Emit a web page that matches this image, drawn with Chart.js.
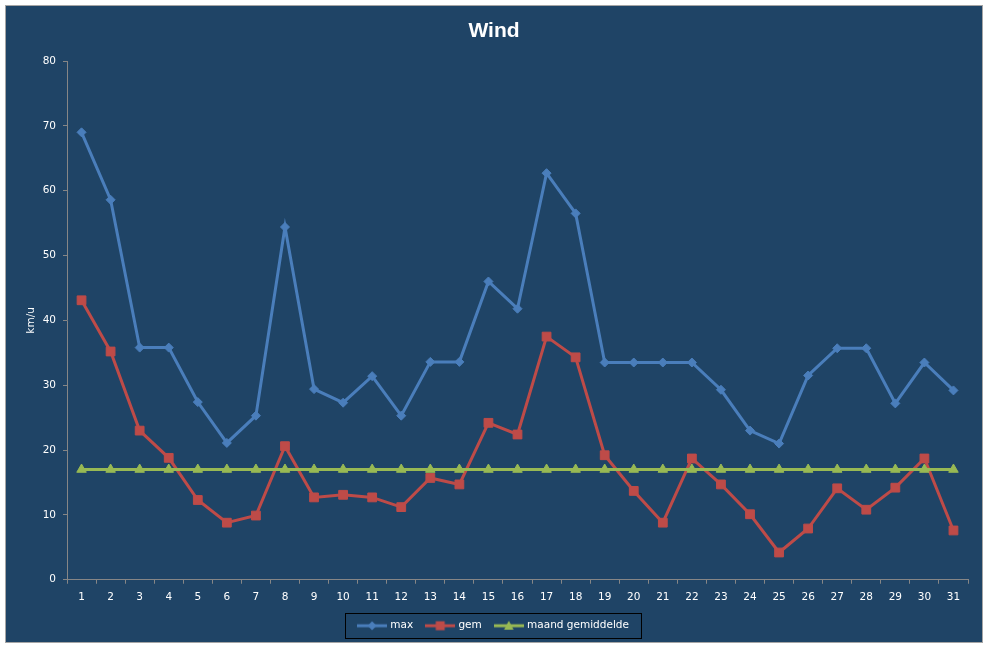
<!DOCTYPE html>
<html><head><meta charset="utf-8">
<script src="https://cdn.jsdelivr.net/npm/chart.js@4/dist/chart.umd.min.js"></script>
<style>html,body{margin:0;padding:0;background:#fff;}canvas{display:block;}</style>
</head><body>
<canvas id="c" width="987" height="648"></canvas>
<script>
const days = ['1','2','3','4','5','6','7','8','9','10','11','12','13','14','15','16','17','18','19','20','21','22','23','24','25','26','27','28','29','30','31'];
const maxWind = [69.0,58.6,35.8,35.8,27.4,21.1,25.3,54.4,29.4,27.3,31.4,25.3,33.6,33.6,46.0,41.8,62.7,56.5,33.5,33.5,33.5,33.5,29.3,23.0,21.0,31.5,35.7,35.7,27.2,33.5,29.2];
const gemWind = [43.1,35.2,23.0,18.8,12.3,8.8,9.9,20.6,12.7,13.1,12.7,11.2,15.7,14.7,24.2,22.4,37.5,34.3,19.2,13.7,8.8,18.7,14.7,10.1,4.2,7.9,14.1,10.8,14.2,18.7,7.6];
const maandGem = [17.0,17.0,17.0,17.0,17.0,17.0,17.0,17.0,17.0,17.0,17.0,17.0,17.0,17.0,17.0,17.0,17.0,17.0,17.0,17.0,17.0,17.0,17.0,17.0,17.0,17.0,17.0,17.0,17.0,17.0,17.0];
const seriesNames = ['max','gem','maand gemiddelde'];
const yMin = 0, yMax = 80, yStep = 10;

const BLUE = '#4A7EBB', RED = '#BE4B48', GREEN = '#98B954';
const BG = '#1F4466', AXIS = '#868686';
const FONT = {family: "'DejaVu Sans', sans-serif", size: 10.5};

function legendImg(color, style) {
  const c = document.createElement('canvas');
  c.width = 30; c.height = 12;
  const g = c.getContext('2d');
  g.strokeStyle = color; g.fillStyle = color; g.lineWidth = 3;
  g.beginPath(); g.moveTo(0, 6); g.lineTo(30, 6); g.stroke();
  g.beginPath();
  if (style === 'diamond') { g.moveTo(15, 1.5); g.lineTo(19.5, 6); g.lineTo(15, 10.5); g.lineTo(10.5, 6); }
  else if (style === 'square') { g.rect(10.5, 1.5, 9, 9); }
  else { g.moveTo(15, 1); g.lineTo(19.8, 10); g.lineTo(10.2, 10); }
  g.closePath(); g.fill();
  return c;
}
const legendImgs = [legendImg(BLUE, 'diamond'), legendImg(RED, 'square'), legendImg(GREEN, 'triangle')];

const bgPlugin = {
  id: 'bg',
  beforeDraw(chart) {
    const ctx = chart.ctx;
    ctx.save();
    ctx.fillStyle = '#FFFFFF';
    ctx.fillRect(0, 0, chart.width, chart.height);
    ctx.fillStyle = BG;
    ctx.fillRect(5, 5, 978, 638);
    ctx.strokeStyle = '#A5A5A5';
    ctx.lineWidth = 1;
    ctx.strokeRect(5.5, 5.5, 977, 637);
    ctx.restore();
  }
};
const legendBoxPlugin = {
  id: 'legendBox',
  afterDraw(chart) {
    const lg = chart.legend;
    if (!lg || !lg.legendHitBoxes || !lg.legendHitBoxes.length) return;
    const hb = lg.legendHitBoxes;
    const left = Math.min(...hb.map(h => h.left));
    const right = Math.max(...hb.map(h => h.left + h.width));
    const cy = hb[0].top + hb[0].height / 2;
    const ctx = chart.ctx;
    ctx.save();
    ctx.strokeStyle = '#000000';
    ctx.lineWidth = 1;
    ctx.strokeRect(Math.round(left - 14) + 0.5, Math.round(cy - 13) + 0.5, Math.round(right - left + 26), 25);
    ctx.restore();
  }
};

new Chart(document.getElementById('c'), {
  type: 'line',
  data: {
    labels: days,
    datasets: [
      {label: seriesNames[0], data: maxWind, borderColor: BLUE, backgroundColor: BLUE, borderWidth: 3,
       pointStyle: 'rectRot', pointRadius: 4.5, pointBorderWidth: 1, tension: 0, order: 3},
      {label: seriesNames[1], data: gemWind, borderColor: RED, backgroundColor: RED, borderWidth: 3,
       pointStyle: 'rect', pointRadius: 6.2, pointBorderWidth: 1, tension: 0, order: 2},
      {label: seriesNames[2], data: maandGem, borderColor: GREEN, backgroundColor: GREEN, borderWidth: 3,
       pointStyle: 'triangle', pointRadius: 5.5, pointBorderWidth: 1, tension: 0, order: 1}
    ]
  },
  options: {
    responsive: false,
    animation: false,
    events: [],
    layout: {padding: {left: 20, right: 19, top: 0, bottom: 7}},
    plugins: {
      tooltip: {enabled: false},
      title: {display: true, text: 'Wind', color: '#FFFFFF',
        font: {family: "'Liberation Sans', Arial, sans-serif", size: 21, weight: 'bold'},
        padding: {top: 19, bottom: 16.8}},
      legend: {
        display: true, position: 'bottom',
        labels: {
          color: '#FFFFFF', font: FONT, usePointStyle: true, pointStyleWidth: 26, padding: 14,
          generateLabels(chart) {
            const items = Chart.defaults.plugins.legend.labels.generateLabels(chart);
            items.sort((a, b) => a.datasetIndex - b.datasetIndex);
            items.forEach(it => { it.pointStyle = legendImgs[it.datasetIndex]; it.fontColor = '#FFFFFF'; });
            return items;
          }
        }
      }
    },
    scales: {
      x: {
        type: 'category', offset: true,
        grid: {display: true, drawOnChartArea: false, offset: true, color: AXIS, tickColor: AXIS, tickLength: 4},
        border: {color: AXIS, width: 1},
        ticks: {color: '#FFFFFF', font: FONT, padding: 7, maxRotation: 0, autoSkip: false},
        afterFit(s) { s.height = 26.75; }
      },
      y: {
        min: yMin, max: yMax,
        grid: {display: true, drawOnChartArea: false, color: AXIS, tickColor: AXIS, tickLength: 4},
        border: {color: AXIS, width: 1},
        ticks: {stepSize: yStep, color: '#FFFFFF', font: FONT, padding: 7},
        title: {display: true, text: 'km/u', color: '#FFFFFF', font: FONT, padding: {top: 5, bottom: 0}},
        afterFit(s) { s.width = 47; }
      }
    }
  },
  plugins: [bgPlugin, legendBoxPlugin]
});
</script>
</body></html>
